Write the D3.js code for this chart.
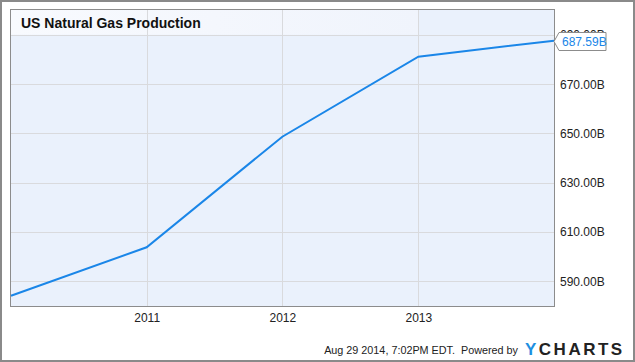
<!DOCTYPE html>
<html>
<head>
<meta charset="utf-8">
<script src="https://cdn.jsdelivr.net/npm/d3@7"></script>
<style>
  body { margin: 0; background: #fff; }
  svg { display: block; font-family: "Liberation Sans", Arial, sans-serif; }
</style>
</head>
<body>
<script>
var WIDTH = 635;
var HEIGHT = 362;

// data (billions)
var dates = ["2010-01-01", "2011-01-01", "2012-01-01", "2013-01-01", "2014-01-01"];
var values = [584.0, 603.7, 648.6, 681.1, 687.59];
var yTicks = [590, 610, 630, 650, 670, 690];
var xTicks = ["2011-01-01", "2012-01-01", "2013-01-01"];
var lastLabel = "687.59B";

var parse = d3.timeParse("%Y-%m-%d");
var points = dates.map((d, i) => ({ date: parse(d), value: values[i] }));

var plot = { left: 11, top: 10, right: 554, bottom: 306 };

var x = d3.scaleTime()
          .domain([parse(dates[0]), parse(dates[dates.length - 1])])
          .range([plot.left, plot.right]);

var y = d3.scaleLinear()
          .domain([579.85, 700.05])
          .range([plot.bottom, plot.top]);

var svg = d3.select("body")
            .append("svg")
            .attr("width", WIDTH)
            .attr("height", HEIGHT);

var defs = svg.append("defs");
var grad = defs.append("linearGradient").attr("id", "titleGrad");
grad.append("stop").attr("offset", "0%").attr("stop-color", "#f8fafe");
grad.append("stop").attr("offset", "100%").attr("stop-color", "#f0f4fc");

// outer frame
svg.append("rect")
   .attr("x", 1).attr("y", 1)
   .attr("width", WIDTH - 2).attr("height", HEIGHT - 2)
   .attr("fill", "#fff")
   .attr("stroke", "#8a8a8a")
   .attr("stroke-width", 2);

// plot background
svg.append("rect")
   .attr("x", plot.left).attr("y", plot.top)
   .attr("width", plot.right - plot.left).attr("height", plot.bottom - plot.top)
   .attr("fill", "#eaf1fc");

// title band
svg.append("rect")
   .attr("x", plot.left).attr("y", plot.top)
   .attr("width", x(parse(xTicks[2])) - plot.left)
   .attr("height", y(690) - plot.top)
   .attr("fill", "url(#titleGrad)");

// grid
svg.append("g")
   .selectAll("line.h")
   .data(yTicks)
   .enter()
   .append("line")
   .attr("x1", plot.left).attr("x2", plot.right)
   .attr("y1", d => Math.round(y(d)) + 0.5)
   .attr("y2", d => Math.round(y(d)) + 0.5)
   .attr("stroke", "#d9dadd");

svg.append("g")
   .selectAll("line.v")
   .data(xTicks.map(parse))
   .enter()
   .append("line")
   .attr("y1", plot.top).attr("y2", plot.bottom)
   .attr("x1", d => Math.round(x(d)) + 0.5)
   .attr("x2", d => Math.round(x(d)) + 0.5)
   .attr("stroke", "#d9dadd");

// plot border
svg.append("rect")
   .attr("x", plot.left - 0.5).attr("y", plot.top - 0.5)
   .attr("width", plot.right - plot.left + 1).attr("height", plot.bottom - plot.top + 1)
   .attr("fill", "none")
   .attr("stroke", "#8c8c8c");

// title
svg.append("text")
   .attr("x", 21).attr("y", 28)
   .attr("font-size", 14)
   .attr("font-weight", "bold")
   .attr("fill", "#111")
   .text("US Natural Gas Production");

// line
var line = d3.line()
             .x(d => x(d.date))
             .y(d => y(d.value));

svg.append("path")
   .datum(points)
   .attr("d", line)
   .attr("fill", "none")
   .attr("stroke", "#1a86e8")
   .attr("stroke-width", 2);

// axes labels
svg.append("g")
   .selectAll("text")
   .data(xTicks.map(parse))
   .enter()
   .append("text")
   .attr("x", d => x(d) + 0.5)
   .attr("y", 322)
   .attr("text-anchor", "middle")
   .attr("font-size", 12)
   .attr("fill", "#222")
   .text(d3.timeFormat("%Y"));

svg.append("g")
   .selectAll("text")
   .data(yTicks)
   .enter()
   .append("text")
   .attr("x", 560)
   .attr("y", d => y(d) + 4.5)
   .attr("font-size", 12)
   .attr("fill", "#222")
   .text(d => d3.format(".2f")(d) + "B");

// last value flag
var last = points[points.length - 1];
var fx = x(last.date), fy = Math.round(y(last.value)) + 0.5;
var flag = svg.append("g");
flag.append("path")
    .attr("d", "M" + fx + "," + fy +
               "L" + (fx + 5) + "," + (fy - 9) +
               "H" + (fx + 52) + "V" + (fy + 9) +
               "H" + (fx + 5) + "Z")
    .attr("fill", "#fff")
    .attr("stroke", "#8c8c8c");
flag.append("text")
    .attr("x", fx + 8)
    .attr("y", fy + 4.5)
    .attr("font-size", 12)
    .attr("fill", "#1a86e8")
    .text(lastLabel);

// footer
svg.append("text")
   .attr("x", 518).attr("y", 354)
   .attr("text-anchor", "end")
   .attr("font-size", 10.8)
   .attr("fill", "#222")
   .attr("xml:space", "preserve")
   .text("Aug 29 2014, 7:02PM EDT.  Powered by");

var logo = svg.append("text")
   .attr("x", 525).attr("y", 355)
   .attr("font-size", 17)
   .attr("font-weight", "bold")
   .attr("letter-spacing", 2.5)
   .attr("fill", "#222");
logo.append("tspan").attr("fill", "#1e8fe1").text("Y");
logo.append("tspan").text("CHARTS");
</script>
</body>
</html>
